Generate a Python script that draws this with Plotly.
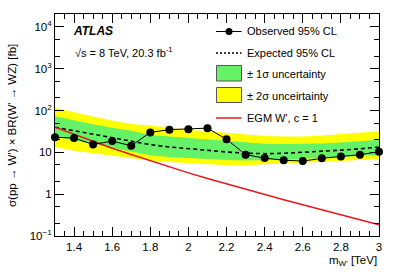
import plotly.graph_objects as go

mass = [1.3, 1.4, 1.5, 1.6, 1.7, 1.8, 1.9, 2.0, 2.1, 2.2, 2.3, 2.4, 2.5, 2.6, 2.7, 2.8, 2.9, 3.0]
observed = [23, 22, 15.5, 18.6, 14.4, 30, 35, 36, 38, 20.6, 8.8, 7.3, 6.5, 6.2, 7.2, 8.0, 8.8, 10.4]
expected = [40, 33, 28, 23, 18.5, 15.3, 13.5, 12.2, 11, 10.2, 9.6, 9.3, 9.5, 10, 10.6, 11.3, 12.2, 13.4]
one_sig_hi = [73, 58, 47, 39, 33, 26, 24, 22, 20, 18.5, 17, 16, 15.8, 16, 16.3, 17.3, 18.5, 20]
one_sig_lo = [24, 19.5, 16, 13, 10.5, 8.5, 7.8, 7.3, 6.9, 6.6, 6.4, 6.5, 6.7, 7.0, 7.3, 7.8, 8.3, 8.8]
two_sig_hi = [117, 90, 72, 58, 48, 44, 39, 35, 32, 29, 26, 24.5, 24, 24, 25.5, 27.5, 29.5, 32]
two_sig_lo = [13.4, 11, 9.5, 8.3, 7.3, 6.4, 5.9, 5.5, 5.2, 5.0, 4.9, 5.2, 5.4, 5.7, 5.9, 6.2, 6.6, 7.0]
egm = [39.8, 26.9, 18.2, 12.6, 8.9, 6.3, 4.5, 3.24, 2.37, 1.76, 1.32, 0.99, 0.74, 0.56, 0.43, 0.32, 0.245, 0.186]

y_tickvals = [0.1, 1, 10, 100, 1000, 10000]
y_ticktext = ["10<sup>\u22121</sup>", "1", "10", "10<sup>2</sup>", "10<sup>3</sup>", "10<sup>4</sup>"]
x_tickvals = [1.4, 1.6, 1.8, 2.0, 2.2, 2.4, 2.6, 2.8, 3.0]
x_ticktext = ["1.4", "1.6", "1.8", "2", "2.2", "2.4", "2.6", "2.8", "3"]

YELLOW = "#ffff00"
GREEN = "#66f266"
RED = "#e41a1c"
FONT = "Liberation Sans"

fig = go.Figure()
fig.add_trace(go.Scatter(x=mass, y=two_sig_lo, mode="lines", line=dict(width=0), showlegend=False, hoverinfo="skip"))
fig.add_trace(go.Scatter(x=mass, y=two_sig_hi, mode="lines", line=dict(width=0), fill="tonexty",
                         fillcolor=YELLOW, showlegend=False))
fig.add_trace(go.Scatter(x=mass, y=one_sig_lo, mode="lines", line=dict(width=0), showlegend=False, hoverinfo="skip"))
fig.add_trace(go.Scatter(x=mass, y=one_sig_hi, mode="lines", line=dict(width=0), fill="tonexty",
                         fillcolor=GREEN, showlegend=False))
fig.add_trace(go.Scatter(x=mass, y=expected, mode="lines", line=dict(color="black", width=1.6, dash="4px,3px"),
                         showlegend=False))
fig.add_trace(go.Scatter(x=mass, y=egm, mode="lines", line=dict(color=RED, width=1.5), showlegend=False))
fig.add_trace(go.Scatter(x=mass, y=observed, mode="lines+markers", line=dict(color="black", width=1),
                         marker=dict(color="black", size=8), showlegend=False, cliponaxis=False))

L, R, T, B = 55, 20, 14, 36
W, H = 399, 272
pw, ph = W - L - R, H - T - B

def px(x):
    return (x - L) / pw

def py(y):
    return (H - B - y) / ph

shapes = []
annotations = []
lx0, lx1 = px(216), px(241.5)
tx = px(245)
shapes.append(dict(type="line", xref="paper", yref="paper", x0=lx0, x1=lx1, y0=py(31.5), y1=py(31.5),
                   line=dict(color="black", width=1)))
shapes.append(dict(type="circle", xref="paper", yref="paper", x0=px(225.5), x1=px(232.5), y0=py(28), y1=py(35),
                   fillcolor="black", line=dict(color="black", width=0)))
shapes.append(dict(type="line", xref="paper", yref="paper", x0=lx0, x1=lx1, y0=py(53), y1=py(53),
                   line=dict(color="black", width=1.4, dash="2px,2px")))
shapes.append(dict(type="rect", xref="paper", yref="paper", x0=px(216.5), x1=px(241.5), y0=py(81), y1=py(65.5),
                   fillcolor=GREEN, line=dict(color="#555555", width=1)))
shapes.append(dict(type="rect", xref="paper", yref="paper", x0=px(216.5), x1=px(241.5), y0=py(102.5), y1=py(87.5),
                   fillcolor=YELLOW, line=dict(color="#555555", width=1)))
shapes.append(dict(type="line", xref="paper", yref="paper", x0=lx0, x1=lx1, y0=py(118), y1=py(118),
                   line=dict(color=RED, width=1.5)))

leg_texts = [("Observed 95% CL", 31.5), ("Expected 95% CL", 53), ("\u00b1 1\u03c3 uncertainty", 74),
             ("\u00b1 2\u03c3 unceirtainty", 96), ("EGM W', c = 1", 118)]
for t, yy in leg_texts:
    annotations.append(dict(text=t, xref="paper", yref="paper", x=tx, y=py(yy), xanchor="left", yanchor="middle",
                            showarrow=False, font=dict(family=FONT, size=11, color="black")))

annotations.append(dict(text="<b><i>ATLAS</i></b>", xref="paper", yref="paper", x=px(71), y=py(31),
                        xanchor="left", yanchor="middle", showarrow=False,
                        font=dict(family=FONT, size=12, color="black")))
annotations.append(dict(text="\u221as = 8 TeV, 20.3 fb<sup>-1</sup>", xref="paper", yref="paper", x=px(73), y=py(52),
                        xanchor="left", yanchor="middle", showarrow=False,
                        font=dict(family=FONT, size=11, color="black")))
annotations.append(dict(text="\u03c3(pp \u2192 W') \u00d7 BR(W' \u2192 WZ) [fb]", xref="paper", yref="paper",
                        x=px(12), y=py(126), xanchor="center", yanchor="middle", textangle=-90, showarrow=False,
                        font=dict(family=FONT, size=11.5, color="black")))
annotations.append(dict(text="m<sub>W'</sub> [TeV]", xref="paper", yref="paper", x=1.0, y=py(261),
                        xanchor="right", yanchor="middle", showarrow=False,
                        font=dict(family=FONT, size=11.5, color="black")))

fig.update_layout(
    width=W, height=H,
    margin=dict(l=L, r=R, t=T, b=B),
    paper_bgcolor="white", plot_bgcolor="white",
    shapes=shapes, annotations=annotations,
    font=dict(family=FONT, size=11.5, color="black"),
    showlegend=False,
)
fig.update_xaxes(range=[1.3, 3.0], showgrid=False, zeroline=False, showline=True, linecolor="black", linewidth=1,
                 mirror="ticks", ticks="inside", ticklen=9, tickcolor="black", tickvals=x_tickvals,
                 ticktext=x_ticktext, tickfont=dict(family=FONT, size=11.5),
                 minor=dict(ticks="inside", ticklen=5, dtick=0.05, tickcolor="black", showgrid=False))
fig.update_yaxes(type="log", range=[-1, 4.31], showgrid=False, zeroline=False, showline=True, linecolor="black",
                 linewidth=1, mirror="ticks", ticks="inside", ticklen=9, tickcolor="black", tickvals=y_tickvals,
                 ticktext=y_ticktext, tickfont=dict(family=FONT, size=11.5),
                 minor=dict(ticks="inside", ticklen=5, tickcolor="black", showgrid=False))

fig.write_html("out.html", config={"displayModeBar": False},
               post_script="document.body.style.margin='0';document.body.style.overflow='hidden';")
